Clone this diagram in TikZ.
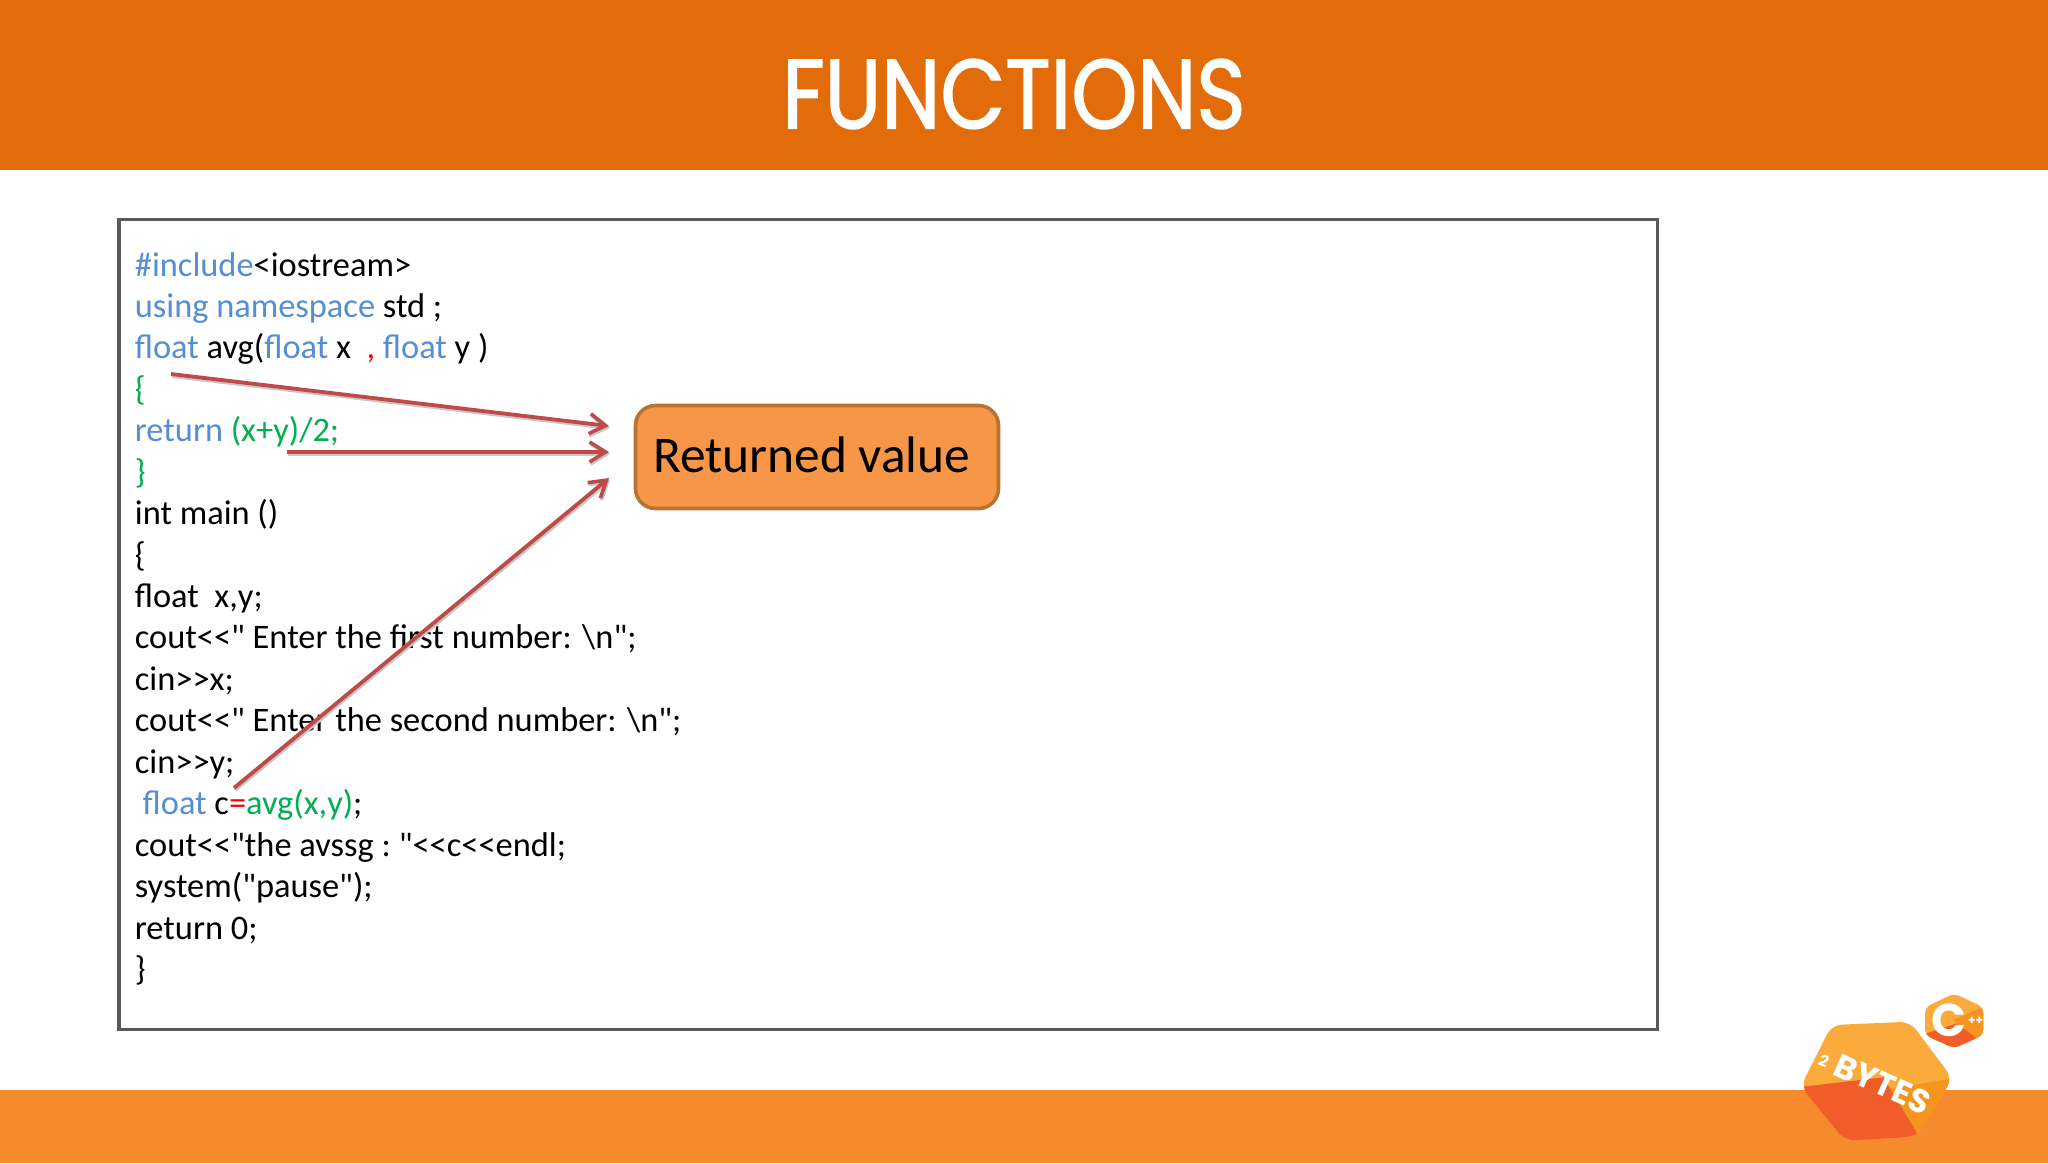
\documentclass[tikz,border=0pt]{standalone}
\usepackage{fontspec}
\usetikzlibrary{arrows.meta}
\newfontfamily\codefont{Carlito}
\newfontfamily\titlefont{Poppins}[FakeBold=1.6]
\newfontfamily\logofont{Poppins}
\definecolor{headbar}{HTML}{E36C0A}
\definecolor{footbar}{HTML}{F68B2D}
\definecolor{boxline}{HTML}{595959}
\definecolor{kwblue}{HTML}{558ED5}
\definecolor{kwgreen}{HTML}{00B050}
\definecolor{kwred}{HTML}{FF0000}
\definecolor{arrowred}{HTML}{BE4B48}
\definecolor{valfill}{HTML}{F79646}
\definecolor{valline}{HTML}{B87333}
\definecolor{hexlight}{HTML}{FBAB3B}
\definecolor{hexmid}{HTML}{F7941E}
\definecolor{hexdark}{HTML}{F15D2A}
\newcommand{\kb}[1]{\textcolor{kwblue}{#1}}
\newcommand{\kg}[1]{\textcolor{kwgreen}{#1}}
\newcommand{\kr}[1]{\textcolor{kwred}{#1}}

\begin{document}
\begin{tikzpicture}[
  x=0.5pt, y=-0.5pt,
  bar/.style={draw=none, minimum width=1024pt, inner sep=0pt, outer sep=0pt, anchor=north west},
  codebox/.style={rectangle, draw=boxline, line width=1.9pt, fill=white, inner sep=0pt, anchor=north west, minimum width=769.3pt, minimum height=405pt},
  codeline/.style={anchor=base west, inner sep=0pt, font=\codefont\fontsize{17.2}{20}\selectfont},
  retval/.style={rectangle, rounded corners=10pt, draw=valline, line width=1.8pt, fill=valfill, minimum width=181.5pt, minimum height=51.5pt, inner sep=0pt, font=\codefont\fontsize{25.7}{30}\selectfont},
  arrow/.style={-{Straight Barb[length=8pt, width=10pt, line width=1.8pt]}, draw=arrowred, line width=1.9pt,
    preaction={draw=black!22, line width=1.9pt, transform canvas={xshift=0.5pt, yshift=-1pt}}},
  logotext/.style={text=white, inner sep=0pt, font=\logofont\bfseries}
]
\useasboundingbox (0,0) rectangle (2048,1163);
\fill[white] (0,0) rectangle (2048,1163);

% Draw header and footer bars
\node[bar, fill=headbar, minimum height=85pt] (header) at (0,0) {};
\node[bar, fill=footbar, minimum height=36.5pt] (footer) at (0,1090) {};
\node[text=white, inner sep=0pt, xscale=0.857, font=\titlefont\fontsize{49}{50}\selectfont] (title) at (1014,94) {FUNCTIONS};

% Draw code box
\node[codebox] (codearea) at (117,217.5) {};

% Draw code, one node per line
\foreach \codetext [count=\i] in {
  {\kb{\#include}<iostream>},
  {\kb{using namespace} std ;},
  {\kb{float} avg(\kb{float} x\ \ \kr{,} \kb{float} y )},
  {\kg{\{}},
  {\kb{return} \kg{(x+y)/2;}},
  {\kg{\}}},
  {int main ()},
  {\{},
  {float\ \ x,y;},
  {cout<<" Enter the first number: \textbackslash n";},
  {cin>>x;},
  {cout<<" Enter the second number: \textbackslash n";},
  {cin>>y;},
  {\ \kb{float} c\kr{=}\kg{avg(x,y)};},
  {cout<<"the avssg : \kern-1.2pt"<<c<<endl;},
  {system("pause");},
  {return 0;},
  {\}}} {
  \node[codeline] (line\i) at (134.5, 276+41.44*\i-41.44) {\codetext};
}

% Draw returned value box
\node[retval] (value) at (817,457) {\raisebox{2.6pt}{Returned value}\kern5.4pt};

% Arrow ends
\coordinate (froma) at (171,374);
\coordinate (fromb) at (287,452);
\coordinate (fromc) at (234,788);
\coordinate (toa) at (609,426);
\coordinate (tob) at (609,452);
\coordinate (toc) at (609,478);

% Connect code lines to returned value
\draw[arrow] (froma) -- (toa);
\draw[arrow] (fromb) -- (tob);
\draw[arrow] (fromc) -- (toc);

% --- LOGO ---
\begin{scope}[shift={(1750,970)}, x=0.1667pt, y=-0.1667pt]
  % big hexagon
  \fill[hexlight, rounded corners=5pt] (245,165) -- (480,155) -- (607,325) -- (500,500) -- (285,512) -- (152,350) -- cycle;
  \begin{scope}
    \clip[rounded corners=5pt] (245,165) -- (480,155) -- (607,325) -- (500,500) -- (285,512) -- (152,350) -- cycle;
    \fill[hexmid] (607,325) -- (400,360) -- (505,505) -- (620,505) -- cycle;
    \fill[hexdark] (140,352) -- (400,322) -- (505,497) -- (285,520) -- cycle;
  \end{scope}
  \node[logotext, rotate=-24, font=\logofont\bfseries\fontsize{16.5}{20}\selectfont] (bytes) at (398,342) {BYTES};
  \node[logotext, rotate=-24, font=\logofont\bfseries\fontsize{8}{9}\selectfont] (two) at (222,272) {2};
  % small hexagon
  \fill[hexlight, rounded corners=3pt] (612,70) -- (700,112) -- (700,195) -- (612,235) -- (525,195) -- (525,112) -- cycle;
  \begin{scope}
    \clip[rounded corners=3pt] (612,70) -- (700,112) -- (700,195) -- (612,235) -- (525,195) -- (525,112) -- cycle;
    \fill[hexmid] (700,110) -- (610,150) -- (680,205) -- (710,205) -- cycle;
    \fill[hexdark] (520,193) -- (620,160) -- (680,205) -- (612,240) -- cycle;
  \end{scope}
  \node[logotext, font=\logofont\bfseries\fontsize{23}{25}\selectfont] (cee) at (596,150) {C};
  \node[logotext, font=\logofont\bfseries\fontsize{6}{7}\selectfont] (plus) at (677,153) {++};
\end{scope}

\end{tikzpicture}
\end{document}
